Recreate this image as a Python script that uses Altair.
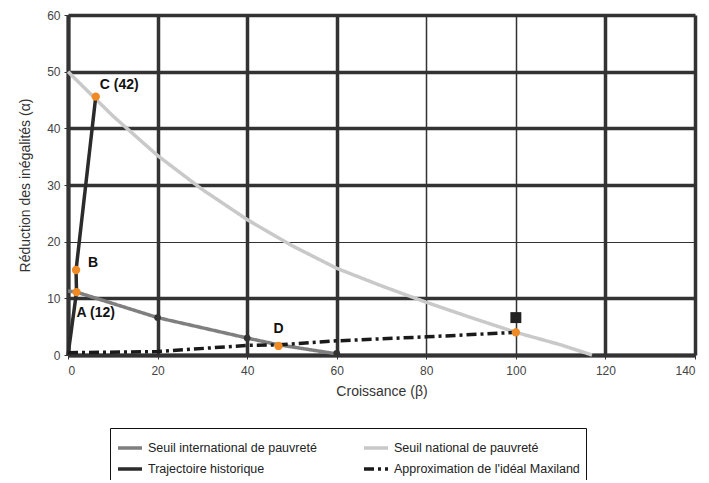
import altair as alt
import pandas as pd

# ---- data ----
series_names = ["Seuil international de pauvreté", "Trajectoire historique",
                "Seuil national de pauvreté", "Approximation de l'idéal Maxiland"]

nat_x = [0, 10, 20, 30, 40, 50, 60, 70, 80, 90, 100, 110, 117]
nat_y = [50, 42.2, 35.2, 29.2, 23.9, 19.3, 15.3, 12.2, 9.3, 6.6, 4.0, 1.8, 0]

int_x = [0, 1.9, 20, 40, 47, 60]
int_y = [11.3, 11.1, 6.6, 3.0, 1.8, 0.2]

hist_x = [0, 1.9, 1.8, 6.2]
hist_y = [0, 11.1, 15.0, 45.6]

maxi_x = [0, 20, 40, 47, 60, 80, 100]
maxi_y = [0.4, 0.6, 1.7, 1.8, 2.5, 3.2, 4.0]

orange_x = [1.9, 1.8, 6.2, 47, 100]
orange_y = [11.1, 15.0, 45.6, 1.6, 4.0]

dark_x = [20, 40, 60]
dark_y = [6.6, 3.0, 0.3]

square_x = [100]
square_y = [6.6]

label_text = ["C (42)", "B", "A (12)", "D"]
label_x = [6.2, 1.8, 1.9, 47]
label_y = [45.6, 15.0, 11.1, 1.6]

x_ticks = [0, 20, 40, 60, 80, 100, 120, 140]
y_ticks = [0, 10, 20, 30, 40, 50, 60]

# ---- tables ----
rows = []
for name, xs, ys in [(series_names[0], int_x, int_y), (series_names[2], nat_x, nat_y),
                     (series_names[1], hist_x, hist_y), (series_names[3], maxi_x, maxi_y)]:
    for i, (a, b) in enumerate(zip(xs, ys)):
        rows.append({"serie": name, "x": a, "y": b, "i": i})
lines_df = pd.DataFrame(rows)

orange_df = pd.DataFrame({"x": orange_x, "y": orange_y})
dark_df = pd.DataFrame({"x": dark_x, "y": dark_y})
square_df = pd.DataFrame({"x": square_x, "y": square_y})
labels_df = pd.DataFrame({"t": label_text, "x": label_x, "y": label_y})

FONT = "Liberation Sans"
thin_x = "datum.value == 80 || datum.value == 100"
thin_y = "datum.value == 20"

xscale = alt.Scale(domain=[0, 140], nice=False, zero=True)
yscale = alt.Scale(domain=[0, 60], nice=False, zero=True)

xenc = alt.X("x:Q", scale=xscale,
             axis=alt.Axis(values=x_ticks, title="Croissance (β)", grid=True,
                           gridColor="#333333",
                           gridWidth={"condition": {"test": thin_x, "value": 1.5}, "value": 3.5},
                           domainColor="#333333", domainWidth=4,
                           tickColor="#333333", tickSize=4, labelPadding=6,
                           labelFontSize=12, labelColor="#444444", labelFont=FONT,
                           titleFont=FONT, titleFontSize=14, titleFontWeight="normal",
                           titleColor="#333333", titlePadding=8))
yenc = alt.Y("y:Q", scale=yscale,
             axis=alt.Axis(values=y_ticks, title="Réduction des inégalités (α)", grid=True,
                           gridColor="#333333",
                           gridWidth={"condition": {"test": thin_y, "value": 1.2}, "value": 3.5},
                           domainColor="#333333", domainWidth=4,
                           tickColor="#333333", tickSize=4, labelPadding=4,
                           labelFontSize=12, labelColor="#444444", labelFont=FONT,
                           titleFont=FONT, titleFontSize=14, titleFontWeight="normal",
                           titleColor="#333333", titlePadding=14))

color_scale = alt.Scale(domain=series_names,
                        range=["#7f7f7f", "#2b2b2b", "#c9c9c9", "#1a1a1a"])
dash_scale = alt.Scale(domain=series_names,
                       range=[[1, 0], [1, 0], [1, 0], [10, 4, 3, 4]])

legend = alt.Legend(title=None, orient="none", legendX=42, legendY=413, columns=2,
                    columnPadding=40, rowPadding=0, symbolType="stroke",
                    symbolSize=576, symbolStrokeWidth=3.5, labelFont=FONT,
                    labelFontSize=12.5, labelColor="#222222", labelLimit=300,
                    strokeColor="#111111", padding=6, fillColor="white")

lines = alt.Chart(lines_df).mark_line(strokeWidth=3.5).encode(
    x=xenc, y=yenc,
    color=alt.Color("serie:N", scale=color_scale, legend=legend),
    strokeDash=alt.StrokeDash("serie:N", scale=dash_scale, legend=legend),
    detail="serie:N",
    order="i:Q",
)

dark_pts = alt.Chart(dark_df).mark_point(filled=True, shape="circle", size=45,
                                         color="#333333", opacity=1).encode(
    x=alt.X("x:Q", scale=xscale), y=alt.Y("y:Q", scale=yscale))

orange_pts = alt.Chart(orange_df).mark_point(filled=True, shape="circle", size=70,
                                             color="#f08a24", opacity=1).encode(
    x=alt.X("x:Q", scale=xscale), y=alt.Y("y:Q", scale=yscale))

square_pts = alt.Chart(square_df).mark_point(filled=True, shape="square", size=120,
                                             color="#222222", opacity=1).encode(
    x=alt.X("x:Q", scale=xscale), y=alt.Y("y:Q", scale=yscale))

offsets = [(4, -12, "left"), (12, -7, "left"), (0, 21, "left"), (0, -17, "center")]
text_layers = []
for k, (dx, dy, al) in enumerate(offsets):
    text_layers.append(
        alt.Chart(labels_df.iloc[[k]]).mark_text(
            dx=dx, dy=dy, align=al, baseline="middle", font=FONT, fontSize=14,
            fontWeight="bold", color="#111111").encode(
            x=alt.X("x:Q", scale=xscale), y=alt.Y("y:Q", scale=yscale), text="t:N"))

chart = alt.layer(lines, dark_pts, orange_pts, square_pts, *text_layers).properties(
    width=627, height=340,
    autosize=alt.AutoSizeParams(type="none"),
    padding={"left": 60, "top": 7, "right": 6, "bottom": 125},
).configure_view(stroke="#333333", strokeWidth=4).configure(background="white")

chart.save("out.html", embed_options={"renderer": "svg", "actions": False})
